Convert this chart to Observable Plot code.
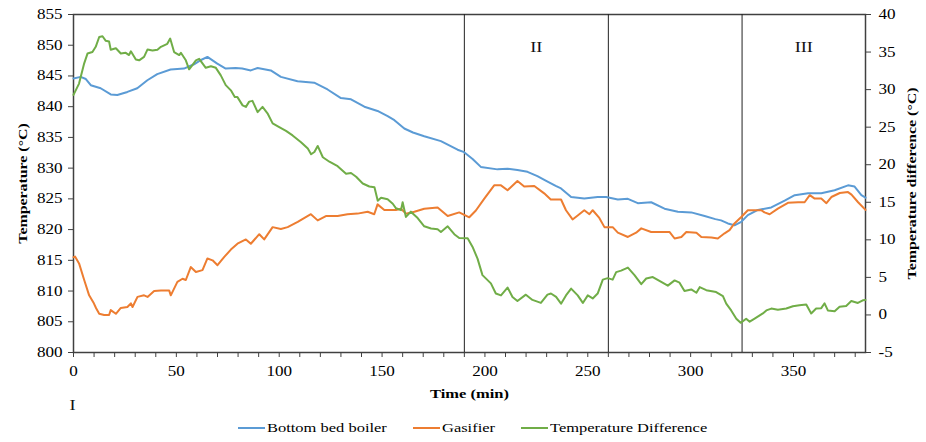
<!DOCTYPE html>
<html>
<head>
<meta charset="utf-8">
<script src="https://cdn.jsdelivr.net/npm/d3@7"></script>
<script src="https://cdn.jsdelivr.net/npm/@observablehq/plot@0.6"></script>
<style>
  body { margin: 0; background: #fff; font-family: "Liberation Serif", "Times New Roman", serif; }
  #chart { width: 926px; height: 442px; position: relative; background: #fff; }
  #chart svg { display: block; }
  .legend { display: flex; justify-content: center; align-items: center; height: 28px; padding-left: 20px; gap: 26px; font-size: 13.5px; color: #000; }
  .item { display: flex; align-items: center; }
  .swatch { width: 27px; height: 2.5px; margin-right: 2px; }
  .label { display: inline-block; white-space: nowrap; }
  .label span { display: inline-block; transform-origin: left center; }
</style>
</head>
<body>
<div id="chart"></div>
<script>
// Bottom bed boiler temperature (°C) against time (min)
const boilerTime = [0, 3.5, 6, 8.4, 13.2, 18.1, 21.3, 26.2, 31, 35.9, 40.7, 47.2, 53.7, 58.6, 62, 65.1, 69.9, 74, 78.8, 82, 86.2, 89.5, 95.9, 100.8, 108.9, 117, 123.5, 130, 134.9, 141.4, 147.8, 152.7, 156, 160.8, 165, 170.5, 178.6, 186.7, 189.9, 194, 198, 206.1, 211, 215.8, 220.7, 225.5, 230, 234.4, 237, 241.9, 248.3, 254.8, 258.9, 264.6, 269.5, 274.3, 280.8, 287.3, 293.8, 300.3, 306.8, 312, 314.8, 318.1, 321.3, 324.6, 327.8, 332.7, 339.2, 345.7, 350.6, 357.1, 363.5, 370, 376.5, 379.7, 383, 385];
const boilerTemp = [844.6, 844.85, 844.5, 843.5, 843.0, 842.0, 841.9, 842.4, 843.0, 844.3, 845.3, 846.05, 846.2, 846.9, 847.6, 848.1, 847.0, 846.2, 846.3, 846.2, 845.9, 846.3, 845.9, 844.85, 844.15, 843.9, 842.8, 841.4, 841.2, 840.0, 839.3, 838.45, 837.8, 836.45, 835.8, 835.2, 834.4, 833.0, 832.6, 831.5, 830.2, 829.8, 829.9, 829.7, 829.4, 828.7, 827.9, 827.1, 826.7, 825.3, 825.05, 825.3, 825.3, 824.9, 825.0, 824.3, 824.45, 823.4, 822.9, 822.8, 822.2, 821.7, 821.5, 821.0, 820.7, 821.25, 822.35, 823.2, 823.6, 824.7, 825.6, 825.9, 825.9, 826.4, 827.2, 827.0, 825.6, 825.2];

// Gasifier temperature (°C) against time (min)
const gasifierTime = [0, 0.8, 2.7, 5.2, 7.6, 9.9, 11, 12.5, 14.9, 17.3, 18.1, 20.6, 23, 26.2, 27.9, 28.7, 31.1, 34.3, 36, 39.2, 42.5, 46.5, 47.3, 50.5, 53, 54.6, 57, 59.5, 62.7, 65.1, 67.6, 70, 73.3, 76.5, 79.7, 83.8, 86.2, 90.3, 92.7, 96.8, 100.8, 104.1, 109, 115.4, 118.7, 122.7, 128.4, 133.2, 138.1, 143, 146.2, 147.8, 151.1, 156.7, 159.2, 161.6, 165.7, 170.5, 177, 181.9, 187.5, 192.4, 195.6, 199.7, 204.5, 207.8, 211, 215.8, 219.1, 224, 228.8, 232, 237, 239.4, 242.6, 245.1, 248.3, 250.8, 252.4, 255.6, 258.1, 262.1, 264.6, 269.5, 273.5, 276, 280.8, 285.7, 289.8, 292.2, 295.5, 297.9, 302.8, 305.2, 310.1, 313.2, 316.5, 318.9, 321.3, 324.6, 327.8, 334.3, 335.9, 338.4, 342.4, 347.3, 352.2, 355.4, 357.9, 360.3, 363.5, 366, 368.4, 372.5, 376.5, 378.2, 381.4, 385];
const gasifierTemp = [815.5, 815.6, 814.5, 811.8, 809.3, 808.0, 807.2, 806.3, 806.1, 806.1, 806.9, 806.3, 807.25, 807.4, 808.0, 807.4, 809.05, 809.3, 809.05, 810.0, 810.1, 810.1, 809.3, 811.5, 812.0, 811.8, 813.9, 813.1, 813.4, 815.3, 815.0, 814.2, 815.55, 816.75, 817.7, 818.4, 817.7, 819.25, 818.4, 820.4, 820.1, 820.4, 821.25, 822.5, 821.5, 822.2, 822.2, 822.5, 822.6, 822.9, 822.5, 824.1, 823.2, 823.2, 823.4, 822.6, 822.9, 823.4, 823.6, 822.2, 822.8, 822.0, 823.1, 825.05, 827.2, 827.2, 826.4, 827.9, 827.0, 827.1, 825.9, 824.9, 824.9, 823.15, 821.65, 822.3, 823.15, 822.5, 823.15, 821.9, 820.4, 820.4, 819.5, 818.8, 819.5, 820.2, 819.6, 819.6, 819.6, 818.55, 818.8, 819.6, 819.5, 818.8, 818.7, 818.55, 819.4, 819.9, 821.0, 822.05, 823.15, 823.15, 822.8, 822.5, 823.4, 824.35, 824.45, 824.45, 825.6, 825.05, 825.05, 824.3, 825.3, 825.95, 826.1, 825.7, 824.45, 823.2];

// Temperature difference (°C) against time (min), read on the right axis
const diffTime = [0, 2.7, 5.2, 6.8, 9.2, 10.8, 12.5, 14.1, 15.7, 17.3, 18.1, 20.6, 23, 25.4, 27, 27.9, 30.3, 31.9, 34.3, 36, 38.4, 40.8, 42.5, 45.6, 47, 48.9, 51.4, 52.2, 54.6, 56.2, 57.9, 59.5, 61.1, 62.7, 64.3, 66.8, 69.2, 71.6, 74, 76.5, 78.4, 79.7, 82.2, 83.8, 85.4, 87, 89.5, 91.9, 94.3, 96.8, 100, 103.3, 106.5, 110.6, 113.9, 115.5, 117.1, 118.7, 121.2, 124.4, 128.4, 132.5, 134.9, 137.4, 140.6, 143.8, 146.3, 147.9, 149.5, 152.7, 155.2, 156.8, 159.2, 160, 161.6, 164, 167.3, 170.5, 173.8, 177, 178.6, 181.9, 185.1, 187.5, 191.6, 194, 196.4, 198.8, 202.9, 205.3, 207.8, 211, 213.4, 215.8, 219.9, 223.1, 227.2, 230.4, 232.1, 234.6, 237, 239.4, 241.9, 245.1, 247.6, 250, 252.4, 254.8, 257.3, 259.7, 262.1, 263.8, 266.2, 269.5, 272.7, 276, 278.4, 281.6, 285.7, 288.9, 292.2, 294.6, 297, 300.3, 302.8, 304.4, 307.6, 312.4, 315.7, 317.3, 319.7, 322.2, 324.3, 327, 328.7, 331.1, 335.1, 336.8, 339.2, 342.4, 346.5, 349.7, 352.9, 356.2, 358.6, 361, 363.5, 365.1, 366.7, 370, 372.4, 375.6, 378.1, 381.3, 383.7, 385];
const diffValue = [29.3, 30.8, 33.5, 34.8, 35.0, 35.7, 37.0, 37.1, 36.5, 36.4, 35.3, 35.5, 34.8, 34.9, 34.6, 35.1, 34.0, 33.9, 34.35, 35.35, 35.2, 35.3, 35.7, 36.1, 36.8, 35.0, 34.6, 34.9, 33.9, 32.7, 33.3, 33.9, 34.1, 33.5, 32.9, 33.1, 32.9, 31.9, 30.6, 29.9, 29.0, 29.0, 27.9, 27.7, 28.4, 28.5, 27.0, 27.7, 26.85, 25.5, 25.0, 24.5, 23.9, 23.0, 22.15, 21.4, 21.7, 22.5, 21.0, 20.4, 19.8, 18.8, 18.9, 18.4, 17.5, 17.1, 17.0, 15.2, 15.6, 15.4, 14.8, 14.2, 13.95, 15.0, 13.05, 13.75, 12.9, 11.8, 11.5, 11.4, 11.05, 11.8, 10.75, 10.25, 10.2, 9.05, 7.5, 5.3, 4.2, 2.85, 2.6, 3.65, 2.4, 1.85, 2.7, 2.0, 1.6, 2.7, 2.85, 2.4, 1.5, 2.6, 3.5, 2.6, 1.6, 2.6, 2.2, 2.85, 4.7, 4.9, 4.7, 5.7, 5.9, 6.3, 5.3, 4.1, 4.85, 5.05, 4.4, 3.9, 4.6, 4.3, 3.2, 3.4, 2.95, 3.7, 3.3, 3.05, 2.5, 1.5, 0.6, -0.5, -1.05, -0.5, -0.9, -0.5, 0.2, 0.6, 0.85, 0.7, 0.85, 1.15, 1.3, 1.4, 0.2, 0.85, 0.9, 1.55, 0.6, 0.5, 1.1, 1.2, 1.85, 1.6, 1.95, 2.0];

// Axis ticks
const xTicks = d3.range(0, 381, 10);
const xLabelStep = 50;
const tempTicks = d3.range(800, 856, 5);
const diffTicks = d3.range(-5, 41, 5);

// Test phases: boundaries and the labelled stretches
const phaseBounds = [190, 260, 325];
const phaseNames = ["II", "III"];
const phaseStart = [190, 325];
const phaseEnd = [260, 385];

const seriesNames = ["Bottom bed boiler", "Gasifier", "Temperature Difference"];
const seriesColors = ["#5B9BD5", "#ED7D31", "#70AD47"];

// Right axis (-5..40) shares the plot height with the left axis (800..855)
const tempDomain = [800, 855];
const diffDomain = [-5, 40];
const toTemp = d => tempDomain[0] + (d - diffDomain[0]) * (tempDomain[1] - tempDomain[0]) / (diffDomain[1] - diffDomain[0]);
const fromTemp = v => diffDomain[0] + (v - tempDomain[0]) * (diffDomain[1] - diffDomain[0]) / (tempDomain[1] - tempDomain[0]);

const boiler = boilerTime.map((t, i) => ({t, v: boilerTemp[i]}));
const gasifier = gasifierTime.map((t, i) => ({t, v: gasifierTemp[i]}));
const diff = diffTime.map((t, i) => ({t, v: toTemp(diffValue[i])}));
const phases = phaseNames.map((name, i) => ({name, mid: (phaseStart[i] + phaseEnd[i]) / 2}));

const axisColor = "#404040";

const plot = Plot.plot({
  width: 926,
  height: 414,
  marginLeft: 73,
  marginRight: 61,
  marginTop: 14,
  marginBottom: 62,
  style: {fontFamily: "'Liberation Serif', 'Times New Roman', serif", fontSize: "14px", color: "#000", background: "#fff"},
  x: {domain: [0, 385]},
  y: {domain: tempDomain},
  marks: [
    Plot.axisX({ticks: xTicks, tickFormat: d => d % xLabelStep === 0 ? String(d) : "", tickSize: 5, tickPadding: 9, label: null, stroke: axisColor}),
    Plot.axisY({ticks: tempTicks, tickSize: 5, tickPadding: 6, label: null, stroke: axisColor}),
    Plot.axisY({anchor: "right", ticks: diffTicks.map(toTemp), tickFormat: v => String(Math.round(fromTemp(v))), tickSize: 5, tickPadding: 8, label: null, stroke: axisColor}),
    Plot.frame({stroke: axisColor, strokeWidth: 1.5}),
    Plot.ruleX(phaseBounds, {stroke: "#222", strokeWidth: 1}),
    Plot.line(boiler, {x: "t", y: "v", stroke: seriesColors[0], strokeWidth: 2}),
    Plot.line(gasifier, {x: "t", y: "v", stroke: seriesColors[1], strokeWidth: 2}),
    Plot.line(diff, {x: "t", y: "v", stroke: seriesColors[2], strokeWidth: 2}),
    Plot.text(phases, {x: "mid", text: "name", frameAnchor: "top", dy: 33, lineAnchor: "middle", textAnchor: "middle", fontSize: 15, fill: "#111"}),
    Plot.text(["I"], {frameAnchor: "bottom-left", dx: -1, dy: 53, lineAnchor: "middle", textAnchor: "middle", fontSize: 15, fill: "#111"}),
    Plot.text(["Time (min)"], {frameAnchor: "bottom", dy: 41, lineAnchor: "middle", textAnchor: "middle", fontWeight: "bold", fontSize: 13.5, fill: "#000"}),
    Plot.text(["Temperature (°C)"], {frameAnchor: "left", dx: -51, rotate: -90, lineAnchor: "middle", textAnchor: "middle", fontWeight: "bold", fontSize: 13, fill: "#000"}),
    Plot.text(["Temperature difference (°C)"], {frameAnchor: "right", dx: 46, rotate: -90, lineAnchor: "middle", textAnchor: "middle", fontWeight: "bold", fontSize: 13, fill: "#000"})
  ]
});

const chart = document.getElementById("chart");
chart.append(plot);

// Wide lettering: stretch each label along its own baseline
const stretch = 1.22;
plot.querySelectorAll("text").forEach(t => {
  const len = t.getComputedTextLength();
  if (len > 0) {
    t.setAttribute("textLength", (len * stretch).toFixed(2));
    t.setAttribute("lengthAdjust", "spacingAndGlyphs");
  }
});

// Legend below the plot
const legend = document.createElement("div");
legend.className = "legend";
seriesNames.forEach((name, i) => {
  const item = document.createElement("div");
  item.className = "item";
  const sw = document.createElement("div");
  sw.className = "swatch";
  sw.style.background = seriesColors[i];
  const label = document.createElement("div");
  label.className = "label";
  const inner = document.createElement("span");
  inner.textContent = name;
  label.append(inner);
  item.append(sw, label);
  legend.append(item);
});
chart.append(legend);
legend.querySelectorAll(".label").forEach(label => {
  const inner = label.firstChild;
  const w = inner.getBoundingClientRect().width;
  label.style.width = (w * stretch) + "px";
  inner.style.transform = `scaleX(${stretch})`;
});
</script>
</body>
</html>
